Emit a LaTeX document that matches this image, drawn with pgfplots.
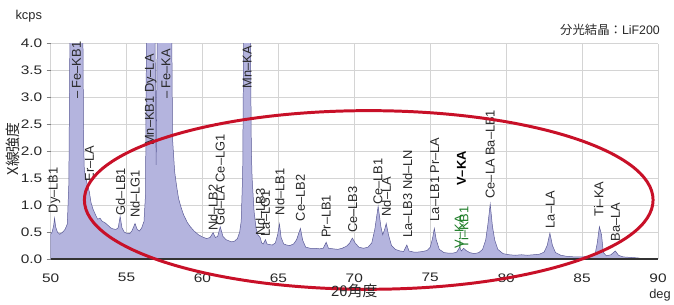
\documentclass[border=0pt]{standalone}
\usepackage{pgfplots}
\pgfplotsset{compat=1.18}
\usepackage{fontspec}
\setmainfont{Liberation Sans}
\newfontfamily\cjk{Noto Sans CJK JP}
\definecolor{specfill}{RGB}{180,180,222}
\definecolor{specline}{RGB}{90,90,150}
\definecolor{gridc}{RGB}{212,212,212}
\definecolor{ellc}{RGB}{200,16,40}
\definecolor{lblgreen}{RGB}{30,125,40}
\definecolor{txt}{RGB}{40,40,40}
\pgfplotstableread{
x y
50.00 0.46
50.10 0.50
50.20 0.62
50.26 0.76
50.33 0.60
50.45 0.50
50.60 0.46
50.80 0.50
50.95 0.55
51.10 0.65
51.20 1.40
51.28 4.50
51.70 12.0
52.12 4.50
52.17 2.20
52.22 1.65
52.40 1.40
52.55 1.25
52.66 1.05
52.80 0.92
52.99 0.80
53.10 0.74
53.25 0.76
53.40 0.70
53.55 0.68
53.64 0.66
53.80 0.62
53.95 0.58
54.10 0.56
54.30 0.55
54.45 0.58
54.58 0.79
54.70 0.58
54.85 0.50
55.00 0.48
55.20 0.47
55.35 0.52
55.56 0.66
55.70 0.55
55.85 0.52
56.00 0.58
56.15 0.70
56.25 1.20
56.32 4.50
56.60 10.0
56.88 4.00
56.95 1.75
57.02 4.20
57.50 20.0
57.98 4.20
58.03 2.23
58.17 1.62
58.30 1.35
58.43 1.12
58.60 0.95
58.76 0.82
59.00 0.68
59.20 0.60
59.45 0.52
59.74 0.45
60.00 0.41
60.27 0.38
60.50 0.40
60.70 0.49
60.85 0.40
61.00 0.42
61.17 0.60
61.35 0.42
61.55 0.36
61.90 0.32
62.10 0.33
62.30 0.38
62.45 0.50
62.55 0.70
62.65 1.60
62.72 4.50
62.95 15.0
63.15 4.50
63.22 2.00
63.27 1.50
63.40 0.88
63.53 0.57
63.65 0.45
63.80 0.40
63.90 0.30
64.00 0.28
64.15 0.36
64.25 0.28
64.40 0.27
64.60 0.26
64.80 0.30
64.95 0.45
65.07 0.65
65.18 0.40
65.35 0.28
65.55 0.26
65.75 0.25
66.00 0.28
66.20 0.36
66.45 0.57
66.60 0.35
66.80 0.22
67.10 0.20
67.40 0.20
67.70 0.19
67.95 0.20
68.15 0.31
68.30 0.20
68.60 0.19
68.90 0.18
69.20 0.20
69.50 0.24
69.70 0.30
69.87 0.39
70.05 0.30
70.30 0.22
70.60 0.20
70.90 0.22
71.15 0.30
71.35 0.55
71.57 0.98
71.75 0.60
71.87 0.45
72.00 0.55
72.10 0.66
72.25 0.45
72.45 0.25
72.70 0.18
73.00 0.15
73.25 0.14
73.46 0.26
73.60 0.15
73.90 0.13
74.20 0.13
74.50 0.14
74.80 0.16
75.00 0.22
75.15 0.38
75.27 0.57
75.40 0.35
75.60 0.18
75.90 0.12
76.20 0.11
76.50 0.11
76.75 0.13
76.94 0.22
77.05 0.15
77.20 0.20
77.35 0.16
77.60 0.12
77.90 0.10
78.20 0.12
78.45 0.18
78.65 0.35
78.80 0.65
78.95 1.02
79.10 0.60
79.25 0.35
79.45 0.18
79.80 0.10
80.20 0.08
80.60 0.07
81.00 0.08
81.40 0.07
81.80 0.08
82.20 0.09
82.50 0.13
82.70 0.25
82.88 0.48
83.05 0.25
83.25 0.12
83.60 0.07
84.00 0.05
84.50 0.04
85.00 0.04
85.50 0.05
85.85 0.08
86.00 0.30
86.14 0.60
86.28 0.45
86.40 0.12
86.60 0.06
86.90 0.08
87.19 0.15
87.40 0.07
87.70 0.04
88.20 0.03
88.70 0.02
89.00 0.00
}\spectrum
\begin{document}
\begin{tikzpicture}[lbl/.style={rotate=90,anchor=west,inner sep=0pt,font=\fontsize{13}{13}\selectfont,text=txt}]
\begin{axis}[
  scale only axis, width=612bp, height=217bp,
  xmin=50, xmax=90, ymin=0, ymax=4,
  xtick={50,55,...,90}, ytick={0,0.5,...,4},
  yticklabel style={/pgf/number format/.cd,fixed,fixed zerofill,precision=1},
  /pgf/number format/assume math mode=true,
  ticklabel style={font=\fontsize{12.5}{12.5}\selectfont,text=txt,xscale=1.25},
  grid=major, major grid style={gridc,line width=0.6bp},
  axis line style={draw=none},
  ytick pos=left, tick align=outside, major tick length=4bp,
  ytick style={draw=gray,line width=0.6bp}, xtick style={draw=none},
  xticklabel style={yshift=-7bp},
  clip=true, clip mode=individual,
]
\addplot[fill=specfill, draw=specline, line width=0.5bp] table[x=x,y=y] {\spectrum} \closedcycle;
\draw[darkgray!80!black, line width=1.3bp] (rel axis cs:0,0) -- (rel axis cs:1,0);
\node[lbl] at (axis cs:50.26,0.85) {Dy–LB1};
\node[lbl] at (axis cs:51.70,2.97) {– Fe–KB1};
\node[lbl] at (axis cs:52.55,1.44) {Er–LA};
\node[lbl] at (axis cs:54.60,0.81) {Gd–LB1};
\node[lbl] at (axis cs:55.56,0.76) {Nd–LG1};
\node[lbl] at (axis cs:56.60,2.10) {Mn–KB1 Dy–LA};
\node[lbl] at (axis cs:57.60,2.97) {– Fe–KA};
\node[lbl] at (axis cs:60.70,0.52) {Nd–LB2};
\node[lbl] at (axis cs:61.15,0.61) {Gd–LA Ce–LG1};
\node[lbl] at (axis cs:62.95,3.17) {Mn–KA};
\node[lbl] at (axis cs:63.80,0.44) {Nd–LB3};
\node[lbl] at (axis cs:64.15,0.42) {La–LG1};
\node[lbl] at (axis cs:65.10,0.81) {Nd–LB1};
\node[lbl] at (axis cs:66.45,0.70) {Ce–LB2};
\node[lbl] at (axis cs:68.15,0.39) {Pr–LB1};
\node[lbl] at (axis cs:69.90,0.48) {Ce–LB3};
\node[lbl] at (axis cs:71.55,1.00) {Ce–LB1};
\node[lbl] at (axis cs:72.10,0.79) {Nd–LA};
\node[lbl] at (axis cs:73.50,0.39) {La–LB3 Nd–LN};
\node[lbl] at (axis cs:75.30,0.70) {La–LB1 Pr–LA};
\node[lbl,font=\fontsize{13}{13}\selectfont\bfseries,text=black] at (axis cs:77.05,1.36) {V–KA};
\node[lbl,text=lblgreen] at (axis cs:76.90,0.20) {V–KA};
\node[lbl,text=lblgreen] at (axis cs:77.20,0.20) {Ti–KB1};
\node[lbl] at (axis cs:78.95,1.12) {Ce–LA Ba–LB1};
\node[lbl] at (axis cs:82.90,0.57) {La–LA};
\node[lbl] at (axis cs:86.10,0.79) {Ti–KA};
\node[lbl] at (axis cs:87.20,0.33) {Ba–LA};
\draw[ellc, line width=3bp] (axis cs:70.95,1.097) ellipse [x radius=286.5bp, y radius=90bp];
\coordinate (SW) at (rel axis cs:0,0);
\end{axis}
\node[text=txt,font=\fontsize{13}{13}\selectfont] at ([shift={(-22bp,245bp)}]SW) {kcps};
\node[text=txt,font=\cjk\fontsize{12.5}{12.5}\selectfont,anchor=east,inner sep=0pt] at ([shift={(614bp,231bp)}]SW) {分光結晶：\fontspec{Liberation Sans}LiF200};
\node[text=txt,font=\cjk\fontsize{15}{15}\selectfont,rotate=90] at ([shift={(-38bp,111bp)}]SW) {X線強度};
\node[text=txt,font=\fontsize{15}{15}\selectfont] at ([shift={(306bp,-32bp)}]SW) {2θ\cjk 角度};
\node[text=txt,font=\fontsize{13}{13}\selectfont] at ([shift={(614bp,-36bp)}]SW) {deg};
\path[use as bounding box] ([shift={(-51bp,-42bp)}]SW) rectangle ([shift={(623bp,261bp)}]SW);
\end{tikzpicture}
\end{document}
